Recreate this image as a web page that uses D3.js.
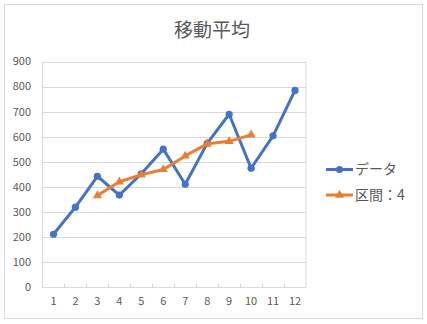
<!DOCTYPE html>
<html lang="ja">
<head>
<meta charset="UTF-8" />
<title>移動平均</title>
<style>
  body { margin:0; background:#fff; }
  svg { display:block; font-family:"Noto Sans CJK JP","Noto Sans",sans-serif; }
</style>
</head>
<body>
<svg id="chart" width="427" height="324"></svg>
<script src="https://d3js.org/d3.v7.min.js"></script>
<script>
// chart data
const categories = ["1","2","3","4","5","6","7","8","9","10","11","12"];
const dataValues = [212, 320, 443, 368, 453, 551, 411, 574, 690, 475, 604, 785];
const maCategories = ["3","4","5","6","7","8","9","10"];
const maValues = [366, 421, 449, 470, 524, 572, 582, 608];
const yTicks = [0,100,200,300,400,500,600,700,800,900];
const seriesNames = ["データ", "区間：4"];
const title = "移動平均";

const blue = "#4472C4", orange = "#ED7D31", grid = "#d9d9d9", txt = "#595959";

const svg = d3.select("#chart");
// outer border
svg.append("rect").attr("x",4.5).attr("y",4.5).attr("width",418).attr("height",314)
   .attr("fill","#fff").attr("stroke",grid);

svg.append("text").attr("x",212).attr("y",37).attr("text-anchor","middle")
   .style("font-size","19px").style("fill",txt).text(title);

const pL = 42.5, pR = 306, pT = 61.5, pB = 287.5;
const x = d3.scaleBand().domain(categories).range([pL,pR]);
const y = d3.scaleLinear().domain([0,900]).range([pB,pT]);
const cx = d => x(d) + x.bandwidth()/2;

// gridlines
svg.append("g").selectAll("line").data(yTicks.slice(1)).join("line")
   .attr("x1",pL).attr("x2",pR)
   .attr("y1",d=>Math.round(y(d))+0.5).attr("y2",d=>Math.round(y(d))+0.5)
   .attr("stroke",grid);
// plot edges & axis lines
svg.append("line").attr("x1",pL).attr("x2",pL).attr("y1",pT).attr("y2",pB).attr("stroke",grid);
svg.append("line").attr("x1",pR).attr("x2",pR).attr("y1",pT).attr("y2",pB).attr("stroke",grid);
svg.append("line").attr("x1",pL).attr("x2",pR).attr("y1",pB).attr("y2",pB).attr("stroke",grid);
// inner ticks at category boundaries
svg.append("g").selectAll("line").data(categories.slice(1)).join("line")
   .attr("x1",d=>Math.round(x(d))+0.5).attr("x2",d=>Math.round(x(d))+0.5)
   .attr("y1",pB-4).attr("y2",pB).attr("stroke",grid);

// y labels
svg.append("g").selectAll("text").data(yTicks).join("text")
   .attr("x",31).attr("y",d=>y(d)).attr("dy","0.35em").attr("text-anchor","end")
   .style("font-size","11px").style("fill",txt).text(d=>d);
// x labels
svg.append("g").selectAll("text").data(categories).join("text")
   .attr("x",cx).attr("y",301).attr("dy","0.35em").attr("text-anchor","middle")
   .style("font-size","11px").style("fill",txt).text(d=>d);

// data series
const line = d3.line().x(d=>cx(d[0])).y(d=>y(d[1]));
const dataPts = categories.map((c,i)=>[c,dataValues[i]]);
const maPts = maCategories.map((c,i)=>[c,maValues[i]]);

svg.append("path").datum(dataPts).attr("d",line).attr("fill","none")
   .attr("stroke",blue).attr("stroke-width",3).attr("stroke-linejoin","round");
svg.append("g").selectAll("circle").data(dataPts).join("circle")
   .attr("cx",d=>cx(d[0])).attr("cy",d=>y(d[1])).attr("r",3.6).attr("fill",blue);

svg.append("path").datum(maPts).attr("d",line).attr("fill","none")
   .attr("stroke",orange).attr("stroke-width",3).attr("stroke-linejoin","round");
const tri = d3.symbol().type(d3.symbolTriangle).size(36);
svg.append("g").selectAll("path").data(maPts).join("path")
   .attr("transform",d=>`translate(${cx(d[0])},${y(d[1])})`)
   .attr("d",tri).attr("fill",orange);

// legend
const legY = [169.5, 195];
const legColors = [blue, orange];
seriesNames.forEach((name,i)=>{
  const g = svg.append("g").attr("transform",`translate(326,${legY[i]})`);
  g.append("line").attr("x1",0).attr("x2",27).attr("stroke",legColors[i]).attr("stroke-width",3);
  if(i===0) g.append("circle").attr("cx",13.5).attr("r",3.6).attr("fill",blue);
  else g.append("path").attr("transform","translate(13.5,0)").attr("d",tri).attr("fill",orange);
  g.append("text").attr("x",29).attr("dy","0.35em")
   .style("font-size","14px").style("fill",txt).text(name);
});
</script>
</body>
</html>
